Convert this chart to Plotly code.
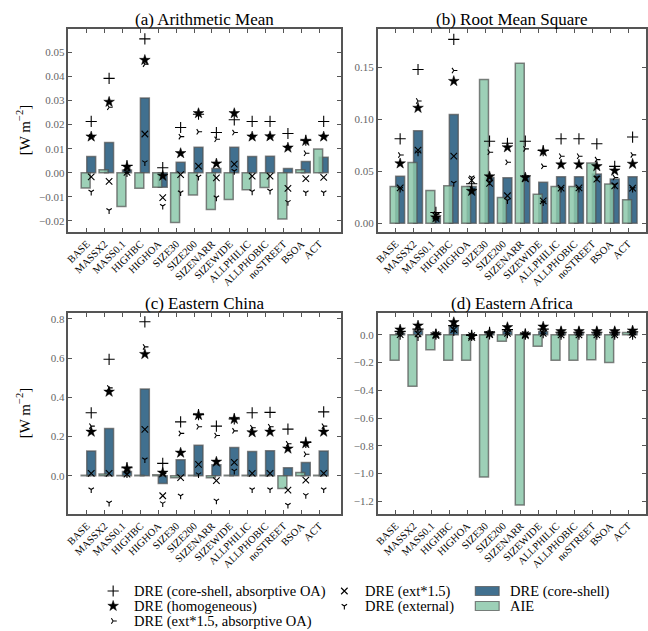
import plotly.graph_objects as go

categories = ["BASE", "MASSX2", "MASS0.1", "HIGHBC", "HIGHOA", "SIZE30", "SIZE200",
              "SIZENARR", "SIZEWIDE", "ALLPHILIC", "ALLPHOBIC", "noSTREET", "BSOA", "ACT"]

# (a) Arithmetic Mean
aie_a = [-0.0063, 0.0013, -0.0140, -0.0064, -0.0060, -0.0207, -0.0092, -0.0153, -0.0111, -0.0071, -0.0061, -0.0192, 0.0013, 0.0099]
cs_a = [0.0068, 0.0126, 0.0011, 0.0310, -0.0060, 0.0044, 0.0106, 0.0018, 0.0106, 0.0068, 0.0069, 0.0018, 0.0047, 0.0064]
plus_a = [0.0213, 0.0392, 0.0030, 0.0556, 0.0021, 0.0188, 0.0243, 0.0167, 0.0220, 0.0213, 0.0213, 0.0163, 0.0135, 0.0213]
star_a = [0.0150, 0.0294, 0.0025, 0.0468, -0.0013, 0.0081, 0.0247, 0.0038, 0.0247, 0.0150, 0.0151, 0.0104, 0.0132, 0.0150]
tri_a = [0.0149, 0.0272, 0.0020, 0.0451, -0.0012, 0.0150, 0.0170, 0.0139, 0.0167, 0.0149, 0.0149, 0.0103, 0.0081, 0.0149]
x_a = [-0.0017, -0.0036, 0.0002, 0.0161, -0.0103, -0.0008, 0.0028, -0.0021, 0.0036, -0.0014, -0.0014, -0.0065, -0.0024, -0.0019]
y_a = [-0.0079, -0.0156, -0.0003, 0.0043, -0.0138, -0.0082, -0.0017, -0.0103, 0.0007, -0.0078, -0.0075, -0.0122, -0.0082, -0.0082]

# (b) Root Mean Square
aie_b = [0.0354, 0.0585, 0.0315, 0.0360, 0.0354, 0.1384, 0.0248, 0.1540, 0.0280, 0.0355, 0.0355, 0.0580, 0.0377, 0.0226]
cs_b = [0.0452, 0.0890, 0.0055, 0.1047, 0.0354, 0.0440, 0.0439, 0.0458, 0.0394, 0.0448, 0.0448, 0.0474, 0.0426, 0.0448]
plus_b = [0.0813, 0.1480, 0.0104, 0.1770, 0.0380, 0.0790, 0.0770, 0.0790, 0.0700, 0.0813, 0.0813, 0.0765, 0.0548, 0.0830]
star_b = [0.0575, 0.1110, 0.0055, 0.1368, 0.0310, 0.0450, 0.0730, 0.0440, 0.0690, 0.0565, 0.0565, 0.0548, 0.0506, 0.0571]
tri_b = [0.0657, 0.1177, 0.0088, 0.1470, 0.0330, 0.0684, 0.0587, 0.0716, 0.0548, 0.0645, 0.0645, 0.0613, 0.0440, 0.0658]
x_b = [0.0341, 0.0705, 0.0070, 0.0647, 0.0413, 0.0384, 0.0265, 0.0430, 0.0216, 0.0339, 0.0340, 0.0426, 0.0360, 0.0339]
y_b = [0.0330, 0.0680, 0.0040, 0.0387, 0.0440, 0.0400, 0.0220, 0.0440, 0.0200, 0.0330, 0.0330, 0.0440, 0.0370, 0.0330]

# (c) Eastern China
aie_c = [0.003, 0.0085, 0.001, 0.002, 0.005, -0.010, 0.003, -0.010, 0.002, 0.003, 0.003, -0.065, 0.017, 0.003]
cs_c = [0.126, 0.241, 0.022, 0.443, -0.039, 0.0815, 0.155, 0.056, 0.144, 0.124, 0.127, 0.041, 0.068, 0.126]
plus_c = [0.321, 0.594, 0.041, 0.785, 0.063, 0.275, 0.312, 0.253, 0.290, 0.321, 0.323, 0.238, 0.170, 0.326]
star_c = [0.224, 0.428, 0.037, 0.620, 0.015, 0.117, 0.309, 0.071, 0.289, 0.221, 0.224, 0.138, 0.165, 0.224]
tri_c = [0.253, 0.448, 0.029, 0.657, 0.012, 0.216, 0.250, 0.205, 0.229, 0.245, 0.250, 0.163, 0.110, 0.253]
x_c = [0.012, 0.012, 0.008, 0.236, -0.102, -0.009, 0.058, -0.025, 0.068, 0.012, 0.012, -0.073, -0.022, 0.012]
y_c = [-0.070, -0.138, 0.007, 0.083, -0.141, -0.102, 0.007, -0.127, 0.025, -0.070, -0.070, -0.149, -0.099, -0.070]

# (d) Eastern Africa
aie_d = [-0.184, -0.371, -0.108, -0.184, -0.184, -1.025, -0.048, -1.226, -0.084, -0.184, -0.184, -0.180, -0.200, 0.015]
cs_d = [0.010, 0.029, 0.002, 0.060, -0.005, 0.010, 0.025, 0.005, 0.023, 0.010, 0.010, 0.010, 0.010, 0.010]
plus_d = [0.024, 0.040, 0.003, 0.065, -0.005, 0.017, 0.036, 0.005, 0.040, 0.017, 0.017, 0.017, 0.017, 0.020]
star_d = [0.036, 0.065, 0.002, 0.089, -0.012, 0.010, 0.053, 0.002, 0.057, 0.024, 0.024, 0.024, 0.024, 0.029]
tri_d = [0.020, 0.035, 0.002, 0.060, -0.008, 0.012, 0.030, 0.003, 0.032, 0.015, 0.015, 0.015, 0.015, 0.018]
x_d = [0.000, 0.005, 0.000, 0.036, -0.007, 0.000, 0.010, 0.000, 0.010, -0.002, -0.002, -0.002, -0.002, -0.002]
y_d = [-0.010, -0.020, -0.002, 0.017, -0.010, -0.008, 0.000, -0.008, 0.000, -0.010, -0.010, -0.010, -0.010, -0.010]

titles = ["(a) Arithmetic Mean", "(b) Root Mean Square", "(c) Eastern China", "(d) Eastern Africa"]
series_names = ["DRE (core-shell, absorptive OA)", "DRE (homogeneous)", "DRE (ext*1.5, absorptive OA)",
                "DRE (ext*1.5)", "DRE (external)", "DRE (core-shell)", "AIE"]

W, H = 648, 631
FONT = "Liberation Serif"
BLUE = "#41708f"
GREEN_SOLID = "#9dd0b7"
GREEN = "rgba(140,200,170,0.85)"
EDGE = "rgba(80,80,80,0.7)"

panels = [
    dict(aie=aie_a, cs=cs_a, plus=plus_a, star=star_a, tri=tri_a, xx=x_a, yy=y_a,
         px=(65, 339.3), py=(29, 232), yr=(-0.0246, 0.0597), xr=(-1.02, 14.2),
         tv=[-0.02, -0.01, 0.0, 0.01, 0.02, 0.03, 0.04, 0.05], fmt=".2f"),
    dict(aie=aie_b, cs=cs_b, plus=plus_b, star=star_b, tri=tri_b, xx=x_b, yy=y_b,
         px=(376.7, 647), py=(29, 232), yr=(-0.0084, 0.187), xr=(-1.0, 14.0),
         tv=[0.0, 0.05, 0.10, 0.15], fmt=".2f"),
    dict(aie=aie_c, cs=cs_c, plus=plus_c, star=star_c, tri=tri_c, xx=x_c, yy=y_c,
         px=(65, 339.3), py=(313, 514), yr=(-0.195, 0.83), xr=(-1.02, 14.2),
         tv=[0.0, 0.2, 0.4, 0.6, 0.8], fmt=".1f"),
    dict(aie=aie_d, cs=cs_d, plus=plus_d, star=star_d, tri=tri_d, xx=x_d, yy=y_d,
         px=(376.7, 647), py=(313, 514), yr=(-1.291, 0.156), xr=(-1.0, 14.0),
         tv=[-1.2, -1.0, -0.8, -0.6, -0.4, -0.2, 0.0], fmt=".1f"),
]

# marker styles: (data key, plotly symbol, size, line width)
marker_styles = [("plus", "cross-thin", 8, 1.1), ("star", "star", 8, 0.5),
                 ("tri", "y-right", 4.5, 1.1), ("xx", "x-thin", 6.5, 1.1), ("yy", "y-down", 4.5, 1.1)]

idx = list(range(len(categories)))
x_aie = [i - 0.06 for i in idx]
x_cs = [i + 0.25 for i in idx]

fig = go.Figure()
layout = dict(width=W, height=H, margin=dict(l=0, r=0, t=0, b=0),
              paper_bgcolor="white", plot_bgcolor="rgba(0,0,0,0)", barmode="overlay",
              showlegend=False, font=dict(family=FONT, color="black"),
              annotations=[], shapes=[])

for k, p in enumerate(panels):
    n = "" if k == 0 else str(k + 1)
    xa, ya = "x" + n, "y" + n
    fig.add_trace(go.Bar(x=x_cs, y=p["cs"], width=0.5, xaxis=xa, yaxis=ya,
                         marker=dict(color=BLUE, line=dict(color=EDGE, width=1.5)),
                         name=series_names[5]))
    fig.add_trace(go.Bar(x=x_aie, y=p["aie"], width=0.5, xaxis=xa, yaxis=ya,
                         marker=dict(color=GREEN, line=dict(color=EDGE, width=1.5)),
                         name=series_names[6]))
    for j, (key, sym, sz, lw) in enumerate(marker_styles):
        fig.add_trace(go.Scatter(x=x_cs, y=p[key], mode="markers", xaxis=xa, yaxis=ya,
                                 marker=dict(symbol=sym, size=sz, color="black",
                                             line=dict(color="black", width=lw)),
                                 name=series_names[j]))
    xdom = [p["px"][0] / W, p["px"][1] / W]
    ydom = [(H - p["py"][1]) / H, (H - p["py"][0]) / H]
    axcommon = dict(showline=True, linecolor="#555555", linewidth=1.5, mirror="allticks",
                    ticks="inside", ticklen=4, tickcolor="#555555", tickwidth=1,
                    showgrid=False, zeroline=False)
    layout["xaxis" + n] = dict(domain=xdom, anchor=ya, range=list(p["xr"]),
                               tickmode="array", tickvals=idx, ticktext=categories,
                               tickangle=-45, tickfont=dict(family=FONT, size=10.5, color="black"),
                               **axcommon)
    layout["yaxis" + n] = dict(domain=ydom, anchor=xa, range=list(p["yr"]),
                               tickmode="array", tickvals=p["tv"], tickformat=p["fmt"],
                               tickfont=dict(family=FONT, size=11, color="#666666"),
                               **axcommon)
    layout["annotations"].append(dict(text=titles[k], xref="paper", yref="paper",
                                      x=(xdom[0] + xdom[1]) / 2, y=ydom[1], yshift=-2,
                                      xanchor="center", yanchor="bottom", showarrow=False,
                                      font=dict(family=FONT, size=17, color="black")))
    if k in (0, 2):
        layout["annotations"].append(dict(text="[W m<sup>−2</sup>]", xref="paper", yref="paper",
                                          x=19 / W, y=(ydom[0] + ydom[1]) / 2, textangle=-90,
                                          xanchor="center", yanchor="middle", showarrow=False,
                                          font=dict(family=FONT, size=15, color="black")))

# ---- legend drawn below the panels (pixel coordinates on a hidden overlay axis) ----
leg_marker_x = [110, 110, 110, 343, 343]
leg_row_y = [591, 606, 621, 591, 606]
layout["xaxis5"] = dict(domain=[0, 1], range=[0, W], visible=False, anchor="y5", fixedrange=True)
layout["yaxis5"] = dict(domain=[0, 1], range=[H, 0], visible=False, anchor="x5", fixedrange=True)
for j, (key, sym, sz, lw) in enumerate(marker_styles):
    fig.add_trace(go.Scatter(x=[leg_marker_x[j]], y=[leg_row_y[j]], mode="markers",
                             xaxis="x5", yaxis="y5", hoverinfo="skip",
                             marker=dict(symbol=sym, size=sz, color="black",
                                         line=dict(color="black", width=lw)),
                             name=series_names[j]))
    layout["annotations"].append(dict(text=series_names[j], xref="paper", yref="paper",
                                      x=(leg_marker_x[j] + 19) / W, y=1 - leg_row_y[j] / H,
                                      xanchor="left", yanchor="middle", showarrow=False,
                                      font=dict(family=FONT, size=14.5, color="black")))
for j, (col, ry) in enumerate([(BLUE, 591), (GREEN_SOLID, 606)]):
    layout["shapes"].append(dict(type="rect", xref="paper", yref="paper",
                                 x0=475 / W, x1=499 / W, y0=1 - (ry + 4.5) / H, y1=1 - (ry - 4.5) / H,
                                 fillcolor=col, line=dict(color=EDGE, width=1.2)))
    layout["annotations"].append(dict(text=series_names[5 + j], xref="paper", yref="paper",
                                      x=508 / W, y=1 - ry / H,
                                      xanchor="left", yanchor="middle", showarrow=False,
                                      font=dict(family=FONT, size=14.5, color="black")))

fig.update_layout(**layout)
fig.write_html("out.html", config={"displayModeBar": False},
               post_script="document.body.style.margin='0';")
